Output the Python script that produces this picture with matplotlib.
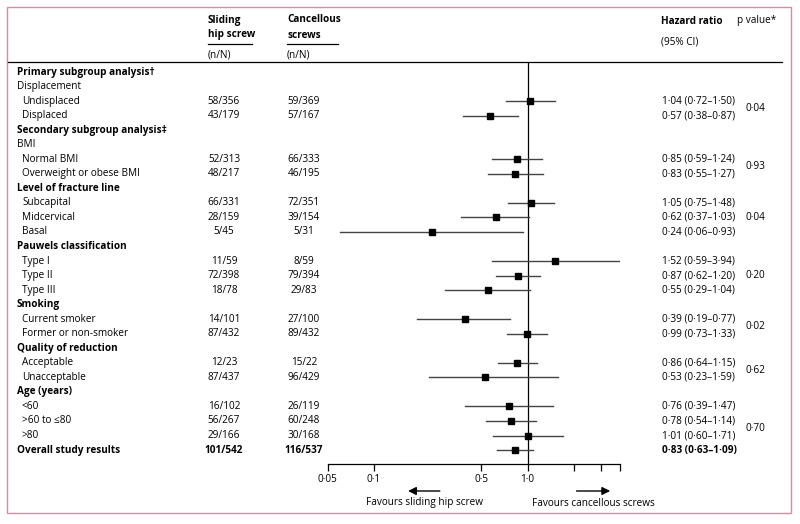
import matplotlib
matplotlib.use("Agg")
import matplotlib.pyplot as plt
from matplotlib import transforms
from matplotlib.patches import Rectangle
from matplotlib.lines import Line2D

plt.rcParams['font.family'] = ['Open Sans', 'DejaVu Sans']

# rows of the table: label and kind (h = bold heading, s = plain sub-heading, i = item, o = overall)
row_labels = ["Primary subgroup analysis†", "Displacement", "Undisplaced", "Displaced",
              "Secondary subgroup analysis‡", "BMI", "Normal BMI", "Overweight or obese BMI",
              "Level of fracture line", "Subcapital", "Midcervical", "Basal",
              "Pauwels classification", "Type I", "Type II", "Type III",
              "Smoking", "Current smoker", "Former or non-smoker",
              "Quality of reduction", "Acceptable", "Unacceptable",
              "Age (years)", "<60", ">60 to ≤80", ">80", "Overall study results"]
row_kinds = ["h", "s", "i", "i", "h", "s", "i", "i", "h", "i", "i", "i", "h", "i", "i", "i",
             "h", "i", "i", "h", "i", "i", "h", "i", "i", "i", "o"]

shs_counts = ["", "", "58/356", "43/179", "", "", "52/313", "48/217", "", "66/331", "28/159", "5/45",
              "", "11/59", "72/398", "18/78", "", "14/101", "87/432", "", "12/23", "87/437",
              "", "16/102", "56/267", "29/166", "101/542"]
cs_counts = ["", "", "59/369", "57/167", "", "", "66/333", "46/195", "", "72/351", "39/154", "5/31",
             "", "8/59", "79/394", "29/83", "", "27/100", "89/432", "", "15/22", "96/429",
             "", "26/119", "60/248", "30/168", "116/537"]

hr = [None, None, 1.04, 0.57, None, None, 0.85, 0.83, None, 1.05, 0.62, 0.24, None, 1.52, 0.87, 0.55,
      None, 0.39, 0.99, None, 0.86, 0.53, None, 0.76, 0.78, 1.01, 0.83]
lo = [None, None, 0.72, 0.38, None, None, 0.59, 0.55, None, 0.75, 0.37, 0.06, None, 0.59, 0.62, 0.29,
      None, 0.19, 0.73, None, 0.64, 0.23, None, 0.39, 0.54, 0.60, 0.63]
hi = [None, None, 1.50, 0.87, None, None, 1.24, 1.27, None, 1.48, 1.03, 0.93, None, 3.94, 1.20, 1.04,
      None, 0.77, 1.33, None, 1.15, 1.59, None, 1.47, 1.14, 1.71, 1.09]

p_values = ["0·04", "0·93", "0·04", "0·20", "0·02", "0·62", "0·70"]
p_spans = [(2, 3), (6, 7), (9, 11), (13, 15), (17, 18), (20, 21), (24, 25)]

x_ticks = [0.05, 0.1, 0.5, 1, 2, 3, 4]
x_tick_labels = ["0·05", "0·1", "0·5", "1·0", "", "", ""]


def fmt(v):
    return f"{v:.2f}".replace(".", "·")


W, H = 800, 524
fig = plt.figure(figsize=(8, 5.24), dpi=100)


def fx(px):
    return px / W


def fy(py):
    return 1 - py / H


row0, step = 72, 14.54


def row_of(py):
    return (py - row0) / step


fs = 7.2
ax = fig.add_axes([fx(327.7), fy(464), fx(620) - fx(327.7), (464 - 62) / H])
ax.set_xscale('log')
ax.set_xlim(0.05, 4)
ax.set_ylim(row_of(464), row_of(62))
for s in ['top', 'left', 'right']:
    ax.spines[s].set_visible(False)
ax.spines['bottom'].set_linewidth(0.9)
ax.set_yticks([])
ax.set_xticks(x_ticks)
ax.set_xticklabels(x_tick_labels, fontsize=fs)
ax.xaxis.set_minor_locator(matplotlib.ticker.NullLocator())
ax.tick_params(axis='x', length=5, width=0.9, pad=2)
ax.axvline(1, color='black', lw=0.9)

for i in range(len(row_labels)):
    if hr[i] is None:
        continue
    ax.plot([lo[i], hi[i]], [i, i], color='#444444', lw=1)
    ax.plot(hr[i], i, marker='s', color='black', markersize=4.3)

tr = transforms.blended_transform_factory(fig.transFigure, ax.transData)
for i, lab in enumerate(row_labels):
    kind = row_kinds[i]
    bold = kind in ("h", "o")
    x = 17 if kind != "i" else 22
    w = 'bold' if bold else 'normal'
    ax.text(fx(x), i, lab, transform=tr, fontsize=fs, va='center', ha='left', fontweight=w)
    if shs_counts[i]:
        ax.text(fx(224), i, shs_counts[i], transform=tr, fontsize=fs, va='center', ha='center', fontweight=w)
        ax.text(fx(304), i, cs_counts[i], transform=tr, fontsize=fs, va='center', ha='center', fontweight=w)
    if hr[i] is not None:
        ax.text(fx(662), i, f"{fmt(hr[i])} ({fmt(lo[i])}–{fmt(hi[i])})", transform=tr,
                fontsize=fs, va='center', ha='left', fontweight=w)

for p, (a, b) in zip(p_values, p_spans):
    ax.text(fx(745), (a + b) / 2, p, transform=tr, fontsize=fs, va='center', ha='left')

# header
fig.text(fx(208), fy(20), "Sliding", fontsize=fs, fontweight='bold', va='center')
fig.text(fx(208), fy(35), "hip screw", fontsize=fs, fontweight='bold', va='center')
fig.text(fx(208), fy(55), "(n/N)", fontsize=fs, va='center')
fig.text(fx(287), fy(20), "Cancellous", fontsize=fs, fontweight='bold', va='center')
fig.text(fx(287), fy(35), "screws", fontsize=fs, fontweight='bold', va='center')
fig.text(fx(287), fy(55), "(n/N)", fontsize=fs, va='center')
fig.text(fx(661), fy(21), "Hazard ratio", fontsize=fs, fontweight='bold', va='center')
fig.text(fx(661), fy(42), "(95% CI)", fontsize=fs, va='center')
fig.text(fx(737), fy(21), "p value*", fontsize=fs, va='center')
fig.add_artist(Line2D([fx(208), fx(252)], [fy(44), fy(44)], color='black', lw=0.9))
fig.add_artist(Line2D([fx(287), fx(338)], [fy(44), fy(44)], color='black', lw=0.9))
fig.add_artist(Line2D([fx(8), fx(782)], [fy(62), fy(62)], color='black', lw=0.9))

# favours arrows
trb = transforms.blended_transform_factory(ax.transData, fig.transFigure)
ax.annotate("", xy=(0.16, fy(491)), xytext=(0.28, fy(491)), xycoords=trb, textcoords=trb,
            arrowprops=dict(arrowstyle='-|>', color='black', lw=1, mutation_scale=12), annotation_clip=False)
ax.annotate("", xy=(3.6, fy(491)), xytext=(2.0, fy(491)), xycoords=trb, textcoords=trb,
            arrowprops=dict(arrowstyle='-|>', color='black', lw=1, mutation_scale=12), annotation_clip=False)
ax.text(0.212, fy(503), "Favours sliding hip screw", transform=trb, fontsize=fs, ha='center', va='center')
ax.text(2.68, fy(503), "Favours cancellous screws", transform=trb, fontsize=fs, ha='center', va='center')

# frame
fig.add_artist(Rectangle((fx(7), fy(513)), fx(791) - fx(7), (513 - 7) / H, fill=False,
                         edgecolor='#d98aa8', lw=1, transform=fig.transFigure))

fig.savefig("out.png", dpi=100)
